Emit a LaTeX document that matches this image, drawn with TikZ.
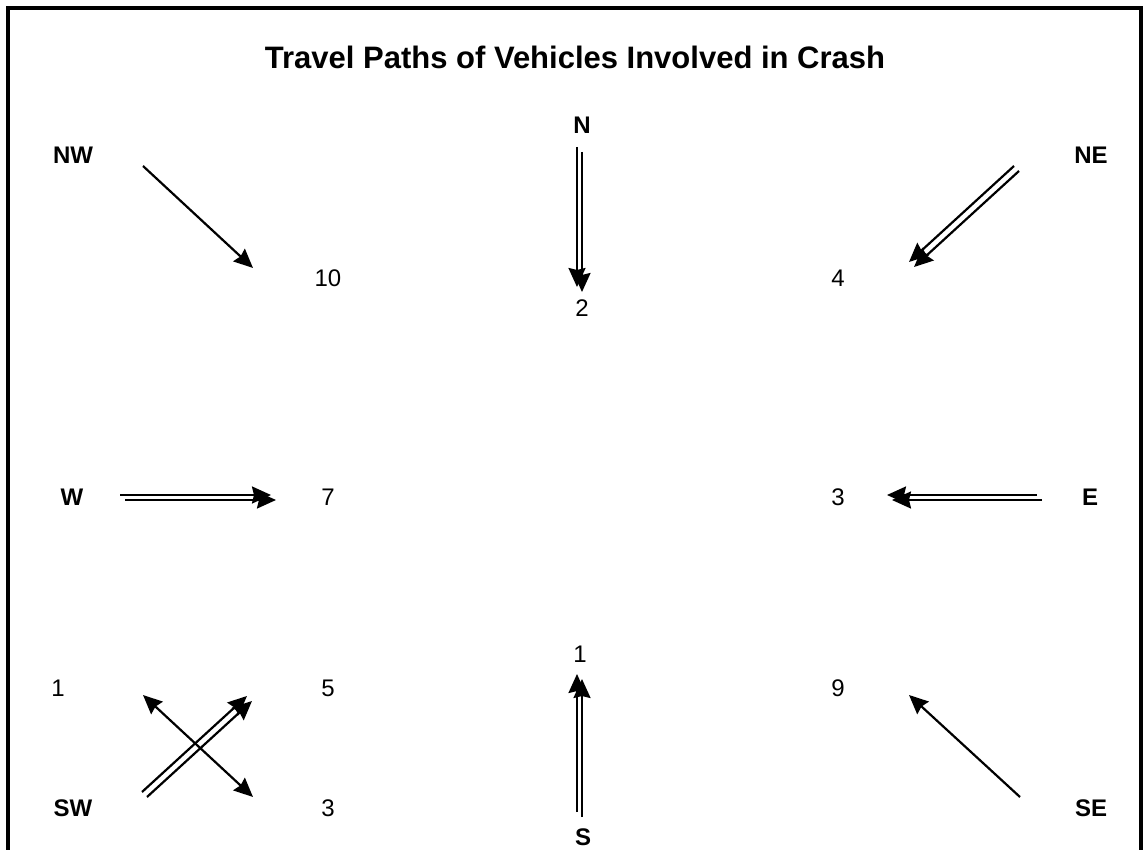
\documentclass[tikz,border=0pt]{standalone}
\usepackage{fontspec}
\setmainfont{Liberation Sans}
\usetikzlibrary{arrows.meta}
\definecolor{PathClr}{rgb}{0,0,0}

\tikzset{
  dirlabel/.style={font=\fontsize{24}{24}\selectfont\bfseries,inner sep=0pt},
  countlabel/.style={font=\fontsize{24}{24}\selectfont,inner sep=0pt},
  travel/.style={line width=2.2pt,color=PathClr,-{Stealth[length=19pt,width=17pt,inset=2pt]}},
  turning/.style={line width=2.2pt,color=PathClr,{Stealth[length=19pt,width=17pt,inset=2pt]}-{Stealth[length=19pt,width=17pt,inset=2pt]}},
}

% two parallel travel paths, the second one set off down and right
\newcommand{\twinpath}[2]{%
  \draw[travel] (#1) -- (#2);
  \draw[travel] ([shift={(5,5)}]#1) -- ([shift={(5,5)}]#2);}

\begin{document}
\begin{tikzpicture}[x=1pt,y=-1pt]
\useasboundingbox (0,0) rectangle (1144,850);

% Frame, open at the bottom
\draw[line width=3.8pt] (8,850) -- (8,8) -- (1141,8) -- (1141,850);

\node[font=\fontsize{31}{31}\selectfont\bfseries] (title) at (575,57) {Travel Paths of Vehicles Involved in Crash};

% Compass labels
\node[dirlabel] (NW) at (73,155) {NW};
\node[dirlabel] (N) at (582,125) {N};
\node[dirlabel] (NE) at (1091,155) {NE};
\node[dirlabel] (W) at (72,497) {W};
\node[dirlabel] (E) at (1090,497) {E};
\node[dirlabel] (SW) at (73,808) {SW};
\node[dirlabel] (S) at (583,837) {S};
\node[dirlabel] (SE) at (1091,808) {SE};

% Vehicle counts
\node[countlabel] (cNW) at (328,278) {10};
\node[countlabel] (cN) at (582,308) {2};
\node[countlabel] (cNE) at (838,278) {4};
\node[countlabel] (cW) at (328,497) {7};
\node[countlabel] (cE) at (838,497) {3};
\node[countlabel] (cS) at (580,654) {1};
\node[countlabel] (cSWl) at (58,688) {1};
\node[countlabel] (cSWr) at (328,688) {5};
\node[countlabel] (cSE) at (838,688) {9};
\node[countlabel] (cSWd) at (328,808) {3};

% End points of the travel paths
\coordinate (NWa) at (143,166);
\coordinate (NWb) at (253,268);
\coordinate (Na) at (577,147);
\coordinate (Nb) at (577,287);
\coordinate (NEa) at (1014,166);
\coordinate (NEb) at (909,262);
\coordinate (Wa) at (120,495);
\coordinate (Wb) at (271,495);
\coordinate (Ea) at (1037,495);
\coordinate (Eb) at (887,495);
\coordinate (Sa) at (577,812);
\coordinate (Sb) at (577,674);
\coordinate (SWa) at (142,792);
\coordinate (SWb) at (247,696);
\coordinate (SWc) at (143,695);
\coordinate (SWd) at (253,797);
\coordinate (SEa) at (1020,797);
\coordinate (SEb) at (909,695);

% Draw the paths
\draw[travel] (NWa) -- (NWb);
\twinpath{Na}{Nb}
\twinpath{NEa}{NEb}
\twinpath{Wa}{Wb}
\twinpath{Ea}{Eb}
\twinpath{Sa}{Sb}
\twinpath{SWa}{SWb}
\draw[turning] (SWc) -- (SWd);
\draw[travel] (SEa) -- (SEb);

\end{tikzpicture}
\end{document}
